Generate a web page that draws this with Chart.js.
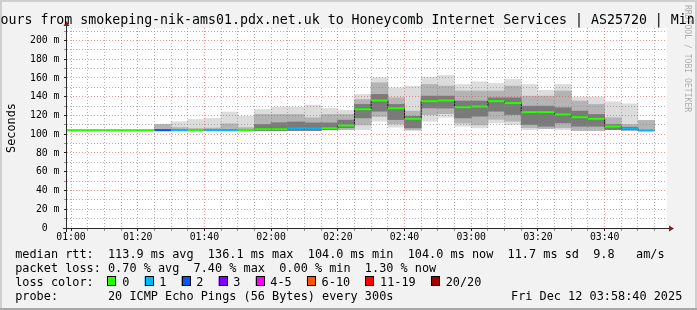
<!DOCTYPE html>
<html><head><meta charset="utf-8">
<script src="https://cdn.jsdelivr.net/npm/chart.js@4.4.1/dist/chart.umd.min.js"></script>
<style>html,body{margin:0;padding:0;background:#f2f2f2;overflow:hidden}canvas{display:block}</style>
</head><body>
<canvas id="c" width="697" height="310" style="width:697px;height:310px"></canvas>
<script>
// ---------------- data ----------------
const bucketStart = ['00:55','01:00','01:05','01:10','01:15','01:20','01:25','01:30','01:35','01:40','01:45','01:50',
  '01:55','02:00','02:05','02:10','02:15','02:20','02:25','02:30','02:35','02:40','02:45','02:50',
  '02:55','03:00','03:05','03:10','03:15','03:20','03:25','03:30','03:35','03:40','03:45','03:50'];
const medianRtt = [104.2,104.2,104.2,104.2,104.2,104.2,
  104.3,104.3,104.3,104.3,104.3,104.6,105.4,105.4,106.5,106.5,106.5,109.3,
  126.7,136.0,127.8,116.4,135.3,136.1,128.9,129.6,135.3,133.2,123.6,123.6,
  121.1,118.2,116.4,108.3,105.8,104.0];
const lossCount = [0,0,0,0,0,0,
  2,1,0,1,1,0,0,0,1,1,0,0,
  0,0,0,0,0,0,0,0,0,0,0,0,
  0,0,0,0,1,1];
const smokeMax = [null,null,null,null,null,null,
  110.4,113.3,115.7,116.8,123.6,119.3,126.4,128.9,128.9,131.0,127.5,125.3,
  142.4,160.2,149.5,151.3,160.9,162.7,153.0,155.9,154.1,158.4,153.0,146.7,
  153.0,139.6,139.6,134.6,132.4,114.7];
const smokeMin = [null,null,null,null,null,null,
  104.0,104.0,104.0,104.0,104.0,104.0,103.8,103.8,104.0,104.0,105.0,105.0,
  105.0,114.0,107.6,104.0,114.0,118.2,108.6,106.9,112.2,110.4,105.0,106.1,
  105.0,104.0,104.0,105.0,104.5,104.0];
const midHigh = [null,null,null,null,null,null,
  110.4,107.0,106.0,106.5,111.1,107.0,121.1,121.1,121.0,117.5,121.0,121.0,
  137.0,154.8,138.8,124.6,153.0,151.3,146.0,146.0,146.0,151.3,140.6,140.6,
  146.0,135.3,131.7,117.5,110.4,114.7];
const midLow = [null,null,null,null,null,null,
  104.0,104.0,104.0,104.0,104.0,104.0,103.8,103.8,104.0,104.0,105.0,105.0,
  110.0,119.0,111.0,105.0,121.0,122.0,112.0,110.0,116.0,114.0,107.0,106.1,
  107.0,104.0,104.0,105.0,104.5,104.0];
const innerHigh = [null,null,null,null,null,null,
  null,null,null,null,null,null,110.4,112.2,113.0,112.0,112.0,115.0,
  131.7,142.4,131.7,119.0,140.6,140.6,135.3,135.3,138.8,138.8,129.9,129.9,
  128.2,124.6,121.0,110.4,107.5,null];
const innerLow = [null,null,null,null,null,null,
  null,null,null,null,null,null,103.8,103.8,104.0,104.0,105.0,107.0,
  117.5,124.6,115.7,106.9,128.2,128.0,117.5,119.3,124.6,121.1,110.4,108.6,
  112.2,108.6,108.6,105.0,104.5,null];
const lossLegendLabels = ['0','1','2','3','4-5','6-10','11-19','20/20'];
const lossLegendColors = ['#26ff00','#00b8ff','#0059ff','#7e00ff','#ff00ff','#ff5500','#ff0000','#a10000'];
const viewStart = '00:58:48', viewEnd = '03:58:42';
const yMaxValue = 213.3;
const titleText = 'Hours from smokeping-nik-ams01.pdx.net.uk to Honeycomb Internet Services | AS25720 | Min';
const yAxisTitle = 'Seconds';
const statsRtt = 'median rtt:  113.9 ms avg  136.1 ms max  104.0 ms min  104.0 ms now  11.7 ms sd  9.8   am/s';
const statsLoss = 'packet loss: 0.70 % avg  7.40 % max  0.00 % min  1.30 % now';
const probeLabel = 'probe:', probeText = '20 ICMP Echo Pings (56 Bytes) every 300s';
const lossColorLabel = 'loss color:';
const dateText = 'Fri Dec 12 03:58:40 2025';
const watermark = 'RRDTOOL / TOBI OETIKER';

// ---------------- helpers ----------------
const STEP = 5; // bucket length in minutes (300 s)
const toMin = s => { const p = s.split(':').map(Number); return p[0]*60 + p[1] + (p[2]||0)/60; };
const pad2 = n => String(n).padStart(2,'0');
const fmtTime = v => pad2(Math.floor(v/60)) + ':' + pad2(Math.round(v%60));
const lossIndex = n => n <= 0 ? 0 : n === 1 ? 1 : n === 2 ? 2 : n === 3 ? 3 : n <= 5 ? 4 : n <= 10 ? 5 : n <= 19 ? 6 : 7;
const MONO = '"DejaVu Sans Mono", monospace';
const MED_HALF = 1.1;

function band(lo, hi) {
  const out = [];
  bucketStart.forEach((t, i) => {
    if (lo[i] != null && hi[i] != null) out.push({x: toMin(t) + STEP/2, y: [lo[i], hi[i]]});
  });
  return out;
}
const medianBand = bucketStart.map((t, i) => ({x: toMin(t) + STEP/2, y: [medianRtt[i] - MED_HALF, medianRtt[i] + MED_HALF], loss: lossCount[i]}));
const connector = bucketStart.map((t, i) => ({x: toMin(t), y: medianRtt[i]}));
connector.push({x: toMin(bucketStart[bucketStart.length-1]) + STEP, y: medianRtt[medianRtt.length-1]});

const isMajor = c => c.tick && Math.round(c.tick.value) % 20 === 0;
const gridColor = c => isMajor(c) ? 'rgba(222,79,79,0.6)' : 'rgba(143,143,143,0.7)';
const tickColor = c => isMajor(c) ? '#1f1f1f' : 'rgba(31,31,31,0.45)';

function monoText(ctx, str, x0, y, cw) {
  for (let i = 0; i < str.length; i++) if (str[i] !== ' ') ctx.fillText(str[i], x0 + i*cw, y);
}

const rrdPlugin = {
  id: 'rrd',
  beforeDraw(chart) {
    const {ctx, chartArea: a, width: W, height: H} = chart;
    ctx.save();
    ctx.fillStyle = '#f2f2f2'; ctx.fillRect(0, 0, W, H);
    ctx.fillStyle = '#cfcfcf'; ctx.fillRect(0, 0, W, 2); ctx.fillRect(0, 0, 2, H); ctx.fillRect(W-2, 0, 2, H);
    ctx.fillStyle = '#a8a8a8'; ctx.fillRect(0, H-2, W, 2);
    ctx.fillStyle = '#ffffff'; ctx.fillRect(a.left, a.top, a.right - a.left, a.bottom - a.top);
    ctx.restore();
  },
  afterDraw(chart) {
    const {ctx, chartArea: a} = chart;
    ctx.save();
    // axes
    ctx.strokeStyle = '#2a2a2a'; ctx.lineWidth = 1;
    ctx.beginPath();
    ctx.moveTo(a.left - 4, a.bottom + 0.5); ctx.lineTo(a.right + 3, a.bottom + 0.5);
    ctx.moveTo(a.left - 0.5, a.bottom + 4); ctx.lineTo(a.left - 0.5, a.top - 3);
    ctx.stroke();
    ctx.fillStyle = '#801f1f';
    ctx.beginPath();
    ctx.moveTo(a.right + 2, a.bottom + 0.5 - 3); ctx.lineTo(a.right + 2, a.bottom + 0.5 + 3); ctx.lineTo(a.right + 7, a.bottom + 0.5); ctx.closePath(); ctx.fill();
    ctx.beginPath();
    ctx.moveTo(a.left - 0.5 - 3, a.top - 2); ctx.lineTo(a.left - 0.5 + 3, a.top - 2); ctx.lineTo(a.left - 0.5, a.top - 7); ctx.closePath(); ctx.fill();

    ctx.fillStyle = '#000';
    ctx.textBaseline = 'alphabetic'; ctx.textAlign = 'left';
    // title
    ctx.font = '13.25px ' + MONO;
    monoText(ctx, titleText, 0.5 - 7.98, 24, 7.98);
    // y axis title
    ctx.font = '11.85px ' + MONO;
    ctx.save(); ctx.translate(15, (a.top + a.bottom)/2); ctx.rotate(-Math.PI/2);
    ctx.textAlign = 'center'; ctx.fillText(yAxisTitle, 0, 0); ctx.restore();
    // watermark
    ctx.save(); ctx.fillStyle = 'rgba(0,0,0,0.3)'; ctx.font = '8.1px ' + MONO;
    ctx.translate(684.7, 5); ctx.rotate(Math.PI/2); ctx.fillText(watermark, 0, 0); ctx.restore();
    // legend
    const cw = 7.136, x0 = 15.2;
    ctx.font = '11.85px ' + MONO;
    monoText(ctx, statsRtt, x0, 258, cw);
    monoText(ctx, statsLoss, x0, 272, cw);
    monoText(ctx, lossColorLabel, x0, 286, cw);
    let bx = x0 + 13*cw - 0.5;
    lossLegendLabels.forEach((lab, i) => {
      ctx.fillStyle = lossLegendColors[i];
      ctx.fillRect(bx, 276.4, 8.6, 9.6);
      ctx.strokeStyle = '#000'; ctx.lineWidth = 1;
      ctx.strokeRect(Math.round(bx) + 0.5, 276.5, 8, 9);
      ctx.fillStyle = '#000';
      const lx = bx + 14.7;
      monoText(ctx, lab, lx, 286, cw);
      bx = lx + lab.length*cw + 15.2;
    });
    monoText(ctx, probeLabel, x0, 300, cw);
    monoText(ctx, probeText, x0 + 13*cw, 300, cw);
    monoText(ctx, dateText, 511, 300, cw);
    ctx.restore();
  }
};

new Chart(document.getElementById('c'), {
  type: 'bar',
  data: {
    datasets: [
      {type: 'bar', label: 'median', data: medianBand, order: 0, grouped: false, borderWidth: 0, inflateAmount: 0,
        barPercentage: 1, categoryPercentage: 1,
        backgroundColor: c => lossLegendColors[lossIndex(c.raw ? c.raw.loss : 0)]},
      {type: 'line', label: 'median step', data: connector, order: 1, stepped: 'before', borderColor: '#1c1c1c',
        borderWidth: 1, pointRadius: 0, fill: false},
      {type: 'bar', label: 'smoke inner', data: band(innerLow, innerHigh), order: 2, grouped: false, borderWidth: 0,
        inflateAmount: 0.4, barPercentage: 1, categoryPercentage: 1, backgroundColor: '#7a7a7a'},
      {type: 'bar', label: 'smoke mid', data: band(midLow, midHigh), order: 3, grouped: false, borderWidth: 0,
        inflateAmount: 0.4, barPercentage: 1, categoryPercentage: 1, backgroundColor: '#b4b4b4'},
      {type: 'bar', label: 'smoke outer', data: band(smokeMin, smokeMax), order: 4, grouped: false, borderWidth: 0,
        inflateAmount: 0.4, barPercentage: 1, categoryPercentage: 1, backgroundColor: '#dcdcdc'}
    ]
  },
  options: {
    responsive: false, animation: false, devicePixelRatio: 1, events: [],
    layout: {padding: {left: 0, top: 28, right: 30, bottom: 0}},
    plugins: {legend: {display: false}, tooltip: {enabled: false}, title: {display: false}},
    scales: {
      x: {type: 'linear', min: toMin(viewStart), max: toMin(viewEnd), offset: false, bounds: 'ticks',
        grid: {offset: false, z: 1, color: gridColor, lineWidth: 1, drawTicks: true, tickLength: 3, tickColor: tickColor, tickWidth: 1},
        border: {display: false, dash: [1, 2]},
        ticks: {stepSize: STEP, includeBounds: false, autoSkip: false, maxRotation: 0, minRotation: 0, padding: 1,
          color: '#000', font: {family: MONO, size: 9.8},
          callback: v => Math.round(v) % 20 === 0 ? fmtTime(v) : ''},
        afterFit: s => { s.height = 82; }},
      y: {type: 'linear', min: 0, max: yMaxValue, bounds: 'ticks',
        grid: {z: 1, color: gridColor, lineWidth: 1, drawTicks: true, tickLength: 3, tickColor: tickColor, tickWidth: 1},
        border: {display: false, dash: [1, 2]},
        ticks: {stepSize: 10, includeBounds: false, autoSkip: false, padding: 4.5, color: '#000', font: {family: MONO, size: 9.8},
          callback: v => Math.round(v) % 20 === 0 ? (v === 0 ? '0  ' : v + ' m') : ''},
        afterFit: s => { s.width = 67; }}
    }
  },
  plugins: [rrdPlugin]
});
</script>
</body></html>
